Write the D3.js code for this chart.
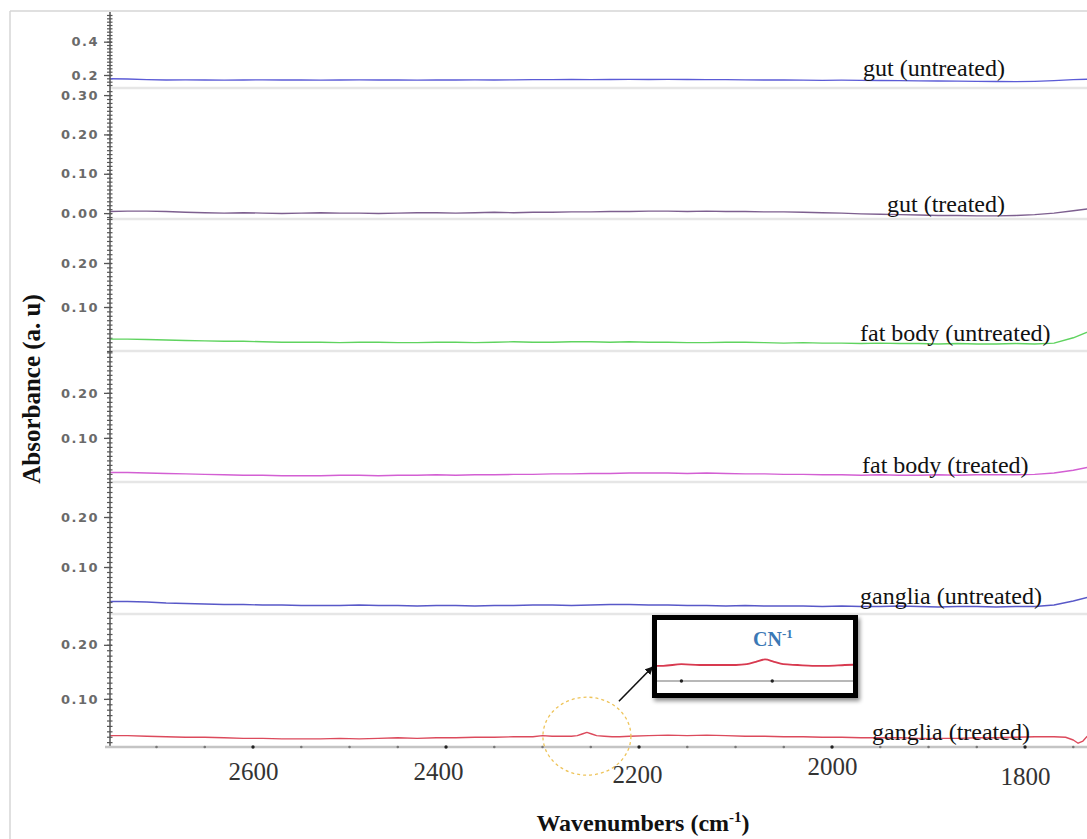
<!DOCTYPE html>
<html>
<head>
<meta charset="utf-8">
<script src="https://cdn.jsdelivr.net/npm/d3@7"></script>
<style>
  html, body { margin: 0; padding: 0; background: #fff; }
  svg { display: block; }
</style>
</head>
<body>
<svg id="chart" width="1087" height="839"></svg>
<script>
// ---- FTIR absorbance spectra, 2750–1730 cm-1 ----
const wavenumbers = [
  2750, 2730, 2710, 2690, 2670, 2650, 2630, 2610, 2590, 2570,
  2550, 2530, 2510, 2490, 2470, 2450, 2430, 2410, 2390, 2370,
  2350, 2330, 2310, 2290, 2270, 2250, 2230, 2210, 2190, 2170,
  2150, 2130, 2110, 2090, 2070, 2050, 2030, 2010, 1990, 1970,
  1950, 1930, 1910, 1890, 1870, 1850, 1830, 1810, 1790, 1770,
  1750, 1730
];

const gutUntreated = [
  0.178, 0.176, 0.172,
  0.170, 0.171, 0.170, 0.169, 0.170, 0.171, 0.170, 0.170, 0.169, 0.170,
  0.171, 0.170, 0.170, 0.169, 0.170, 0.170, 0.171, 0.170,
  0.171, 0.172, 0.172, 0.173, 0.172, 0.173, 0.174, 0.173, 0.174, 0.173,
  0.172, 0.172, 0.171,
  0.170, 0.170, 0.169, 0.168, 0.169, 0.168, 0.167, 0.166, 0.165, 0.164,
  0.163, 0.162,
  0.161, 0.160, 0.162, 0.166, 0.172, 0.176
];

const gutTreated = [
  0.004, 0.005, 0.005, 0.004, 0.002, 0.001, 0.000,
  0.001, 0.000, -0.001, 0.000, 0.001, 0.000, 0.000, -0.001, 0.000, 0.001,
  0.001, 0.000, 0.001, 0.002, 0.001, 0.002, 0.002, 0.003,
  0.003, 0.004, 0.004, 0.005, 0.005, 0.004, 0.005, 0.004, 0.004, 0.003,
  0.003, 0.002, 0.001,
  0.000, -0.002, -0.003, -0.004, -0.005, -0.006, -0.006, -0.007, -0.007, -0.006,
  -0.004, 0.000, 0.006, 0.012
];

const fatBodyUntreated = [
  0.027, 0.027, 0.026, 0.025, 0.024, 0.023,
  0.022, 0.022, 0.021, 0.020, 0.020, 0.020, 0.019, 0.020, 0.020, 0.019,
  0.019, 0.020, 0.020, 0.019, 0.020, 0.021, 0.020, 0.020, 0.021, 0.021,
  0.020, 0.021, 0.020, 0.020, 0.019,
  0.019, 0.020, 0.020, 0.019, 0.018, 0.019, 0.018, 0.018, 0.017, 0.018,
  0.017, 0.017, 0.016, 0.017, 0.016,
  0.016, 0.017, 0.016, 0.018, 0.030, 0.048
];

const fatBodyTreated = [
  0.023, 0.023, 0.022, 0.021, 0.020, 0.019,
  0.018, 0.017, 0.017, 0.016, 0.016, 0.016, 0.017, 0.017, 0.016, 0.017,
  0.017, 0.018, 0.017, 0.018, 0.018,
  0.019, 0.019, 0.020, 0.020, 0.021, 0.021, 0.022, 0.022, 0.022, 0.021,
  0.022, 0.021, 0.020, 0.020, 0.019, 0.019, 0.018,
  0.018, 0.017, 0.018, 0.017, 0.017, 0.018, 0.017, 0.018, 0.018, 0.018,
  0.019, 0.022, 0.028, 0.037
];

const gangliaUntreated = [
  0.031, 0.031, 0.030, 0.028, 0.027, 0.026,
  0.025, 0.025, 0.024, 0.024, 0.023, 0.023, 0.023, 0.024, 0.023, 0.023,
  0.022, 0.023, 0.023, 0.022, 0.023,
  0.023, 0.024, 0.024, 0.023, 0.024, 0.025, 0.025, 0.024, 0.024, 0.023,
  0.023, 0.022, 0.023, 0.022, 0.022,
  0.022, 0.021, 0.022, 0.021, 0.021, 0.022, 0.021, 0.020, 0.021, 0.021,
  0.020, 0.021,
  0.021, 0.024, 0.032, 0.042
];

// ganglia (treated) was sampled more finely around the CN band and the right edge
const gangliaTreatedWavenumbers = [
  2750, 2730, 2710, 2690, 2670, 2650, 2630, 2610, 2590, 2570,
  2550, 2530, 2510, 2490, 2470, 2450, 2430, 2410, 2390, 2370,
  2350, 2330, 2310,
  2300, 2290, 2280, 2270, 2264, 2259, 2254, 2249, 2244, 2236, 2228, 2220, 2210,
  2190, 2170, 2150, 2130, 2110, 2090, 2070, 2050, 2030, 2010,
  1990, 1970, 1950, 1930, 1910, 1890, 1870, 1850, 1830, 1810,
  1790, 1770,
  1758, 1750, 1745, 1740, 1736, 1730
];
const gangliaTreated = [
  0.032, 0.032, 0.031, 0.030, 0.029, 0.029, 0.028, 0.027, 0.027, 0.026,
  0.026, 0.026, 0.027, 0.026, 0.027, 0.028, 0.027, 0.028, 0.028, 0.029,
  0.029, 0.030, 0.030,
  0.032, 0.031, 0.031, 0.031, 0.032, 0.035, 0.038, 0.035, 0.032, 0.031, 0.030, 0.030, 0.031,
  0.032, 0.033, 0.032, 0.033, 0.032, 0.031, 0.031, 0.030, 0.030, 0.029,
  0.029, 0.028, 0.028, 0.028, 0.027, 0.027, 0.027, 0.028, 0.028, 0.029,
  0.030, 0.030,
  0.029, 0.024, 0.018, 0.022, 0.030, 0.036
];

const sampleLabels = [
  "gut (untreated)", "gut (treated)",
  "fat body (untreated)", "fat body (treated)",
  "ganglia (untreated)", "ganglia (treated)"
];

// absorbance range shown in each stacked panel (top to bottom)
const panelDomains = [
  [0.122, 0.578], [-0.015, 0.318], [0.000, 0.300],
  [0.002, 0.293], [0.006, 0.270], [0.011, 0.257]
];
const panelTicks = [
  [0.2, 0.4], [0.0, 0.1, 0.2, 0.3], [0.1, 0.2],
  [0.1, 0.2], [0.1, 0.2], [0.1, 0.2]
];
const xTicks = [2600, 2400, 2200, 2000, 1800];
const cnBand = 2254;   // CN stretching band marked in ganglia (treated)

// ---- layout ----
const W = 1087, H = 839;
const axisX = 110, axisY = 747;
const bands = [[12, 88], [88, 219], [219, 351], [351, 482], [482, 614], [614, 747]];
const colors = ["#5b5bd6", "#7d5f8f", "#5fd35f", "#d35fd3", "#5858c8", "#dc4a5c"];
const labelPos = [[863, 76], [887, 212], [860, 341], [862, 473], [860, 604], [872, 740]];
const tickNudge = { 2600: [0, 0], 2400: [-8, 0], 2200: [-2, 3], 2000: [0, -5], 1800: [0, 5] };

const series = [
  { wn: wavenumbers, v: gutUntreated },
  { wn: wavenumbers, v: gutTreated },
  { wn: wavenumbers, v: fatBodyUntreated },
  { wn: wavenumbers, v: fatBodyTreated },
  { wn: wavenumbers, v: gangliaUntreated },
  { wn: gangliaTreatedWavenumbers, v: gangliaTreated }
];

const svg = d3.select("#chart");

// frame lines along the top and left
svg.append("line").attr("x1", 10).attr("y1", 11).attr("x2", W).attr("y2", 11)
  .attr("stroke", "#d6d6d6").attr("stroke-width", 1.5);
svg.append("line").attr("x1", 10).attr("y1", 11).attr("x2", 10).attr("y2", H)
  .attr("stroke", "#d6d6d6").attr("stroke-width", 1.5);

const x = d3.scaleLinear().domain([2748.2, 1735.8]).range([axisX, W]);

svg.append("defs").append("clipPath").attr("id", "plotClip")
  .append("rect").attr("x", axisX).attr("y", 0).attr("width", W - axisX).attr("height", H);

const yScales = [];

bands.forEach((band, i) => {
  const [lo, hi] = panelDomains[i];
  const y = d3.scaleLinear().domain([lo, hi]).range([band[1], band[0]]);
  yScales.push(y);

  // light baseline under each panel
  if (i < bands.length - 1) {
    svg.append("line")
      .attr("x1", axisX).attr("x2", W)
      .attr("y1", band[1]).attr("y2", band[1])
      .attr("stroke", "#e6e6e6").attr("stroke-width", 2.5);
  }

  // minor ticks
  const step = i === 0 ? 0.02 : 0.01;
  const minor = d3.range(Math.ceil(lo / step - 1e-6), Math.floor(hi / step + 1e-6) + 1)
    .map(k => +(k * step).toFixed(3));
  const gMinor = svg.append("g").attr("transform", `translate(${axisX},0)`)
    .call(d3.axisLeft(y).tickValues(minor).tickSize(3).tickFormat(""));
  gMinor.select(".domain").remove();
  gMinor.selectAll(".tick line").attr("x1", 2.5).attr("stroke", "#555").attr("stroke-width", 1.2);

  // major ticks
  const gMajor = svg.append("g").attr("transform", `translate(${axisX},0)`)
    .call(d3.axisLeft(y).tickValues(panelTicks[i]).tickSize(6).tickPadding(5)
      .tickFormat(d3.format(i === 0 ? ".1f" : ".2f")));
  gMajor.select(".domain").remove();
  gMajor.selectAll(".tick line").attr("x1", 2).attr("stroke", "#555").attr("stroke-width", 1.3);
  gMajor.selectAll(".tick text")
    .attr("fill", "#6a6a6a")
    .style("font-family", "'DejaVu Sans', sans-serif")
    .style("font-size", "13px")
    .style("font-weight", "bold")
    .style("letter-spacing", "1.5px");

  // spectrum
  const s = series[i];
  const pts = s.wn.map((w, k) => [w, s.v[k]]);
  svg.append("path")
    .datum(pts)
    .attr("clip-path", "url(#plotClip)")
    .attr("fill", "none")
    .attr("stroke", colors[i])
    .attr("stroke-width", 1.4)
    .attr("stroke-linejoin", "round")
    .attr("d", d3.line().x(d => x(d[0])).y(d => y(d[1])));

  // sample label
  svg.append("text")
    .attr("x", labelPos[i][0]).attr("y", labelPos[i][1])
    .attr("fill", "#111")
    .style("font-family", "'Liberation Serif', 'Times New Roman', serif")
    .style("font-size", "24px")
    .text(sampleLabels[i]);
});

// continuous y-axis spine
svg.append("line").attr("x1", axisX).attr("x2", axisX).attr("y1", 12).attr("y2", axisY)
  .attr("stroke", "#555").attr("stroke-width", 1.5);

// x axis
svg.append("line").attr("x1", axisX - 5).attr("x2", W).attr("y1", axisY).attr("y2", axisY)
  .attr("stroke", "#c4c4c4").attr("stroke-width", 2.5);

const dotTicks = d3.range(2700, 1700, -50).filter(w => x(w) > axisX + 2);
svg.append("g").selectAll("circle").data(dotTicks).join("circle")
  .attr("cx", d => x(d)).attr("cy", axisY)
  .attr("r", d => d % 200 === 0 ? 1.7 : 1.3)
  .attr("fill", d => d % 200 === 0 ? "#222" : "#777");

const gx = svg.append("g").attr("transform", `translate(0,${axisY})`)
  .call(d3.axisBottom(x).tickValues(xTicks).tickSize(0).tickPadding(15).tickFormat(d3.format("d")));
gx.select(".domain").remove();
gx.selectAll(".tick text")
  .attr("fill", "#333")
  .attr("dx", d => tickNudge[d][0])
  .attr("transform", d => `translate(0,${tickNudge[d][1]})`)
  .style("font-family", "'Liberation Serif', 'Times New Roman', serif")
  .style("font-size", "25px");

// axis titles
const xTitle = svg.append("text")
  .attr("x", 643).attr("y", 831)
  .attr("text-anchor", "middle")
  .attr("fill", "#111")
  .style("font-family", "'Liberation Serif', 'Times New Roman', serif")
  .style("font-size", "24px")
  .style("font-weight", "bold");
xTitle.append("tspan").text("Wavenumbers (cm");
xTitle.append("tspan").attr("dy", -9).style("font-size", "15px").text("-1");
xTitle.append("tspan").attr("dy", 9).text(")");

svg.append("text")
  .attr("transform", "translate(40,389) rotate(-90)")
  .attr("text-anchor", "middle")
  .attr("fill", "#111")
  .style("font-family", "'Liberation Serif', 'Times New Roman', serif")
  .style("font-size", "25px")
  .style("font-weight", "bold")
  .text("Absorbance (a. u)");

// ---- CN band highlight and magnified inset ----
const yG = yScales[5];
const cx = x(cnBand), cy = yG(0.031);
svg.append("ellipse")
  .attr("cx", cx).attr("cy", cy).attr("rx", 44).attr("ry", 39)
  .attr("fill", "none")
  .attr("stroke", "#eec45a").attr("stroke-width", 1.3)
  .attr("stroke-dasharray", "3,3");

const box = { x: 654.5, y: 617.5, w: 201, h: 78 };

svg.select("defs").append("marker")
  .attr("id", "arrowHead").attr("viewBox", "0 0 10 10")
  .attr("refX", 9).attr("refY", 5)
  .attr("markerWidth", 5).attr("markerHeight", 5)
  .attr("orient", "auto")
  .append("path").attr("d", "M0,0 L10,5 L0,10 Z").attr("fill", "#111");

svg.append("line")
  .attr("x1", cx + 32).attr("y1", cy - 35)
  .attr("x2", box.x - 2).attr("y2", 667)
  .attr("stroke", "#111").attr("stroke-width", 1.6)
  .attr("marker-end", "url(#arrowHead)");

const filt = svg.select("defs").append("filter").attr("id", "boxShadow")
  .attr("x", "-10%").attr("y", "-10%").attr("width", "130%").attr("height", "140%");
filt.append("feGaussianBlur").attr("in", "SourceAlpha").attr("stdDeviation", 2);
filt.append("feOffset").attr("dx", 2).attr("dy", 3).attr("result", "off");
filt.append("feComponentTransfer").append("feFuncA").attr("type", "linear").attr("slope", 0.45);
const fm = filt.append("feMerge");
fm.append("feMergeNode");
fm.append("feMergeNode").attr("in", "SourceGraphic");

svg.append("rect")
  .attr("x", box.x).attr("y", box.y).attr("width", box.w).attr("height", box.h)
  .attr("fill", "#fff").attr("stroke", "#000").attr("stroke-width", 5)
  .attr("filter", "url(#boxShadow)");

svg.select("defs").append("clipPath").attr("id", "insetClip")
  .append("rect").attr("x", box.x + 2.5).attr("y", box.y + 2.5)
  .attr("width", box.w - 5).attr("height", box.h - 5);

const xi = d3.scaleLinear().domain([2314, 2205]).range([656, 854]);
const yi = d3.scaleLinear().domain([0.011, 0.05]).range([681, 649.8]);
const inset = svg.append("g").attr("clip-path", "url(#insetClip)");

inset.append("line").attr("x1", 656).attr("x2", 854)
  .attr("y1", yi(0.011)).attr("y2", yi(0.011))
  .attr("stroke", "#b8b8b8").attr("stroke-width", 2);
inset.selectAll("circle").data([2300, 2250]).join("circle")
  .attr("cx", d => xi(d)).attr("cy", yi(0.011)).attr("r", 1.7).attr("fill", "#222");

const insetPts = gangliaTreatedWavenumbers
  .map((w, k) => [w, gangliaTreated[k]])
  .filter(d => d[0] <= 2330 && d[0] >= 2190);
inset.append("path").datum(insetPts)
  .attr("fill", "none").attr("stroke", "#d83a50").attr("stroke-width", 1.8)
  .attr("stroke-linejoin", "round")
  .attr("d", d3.line().curve(d3.curveMonotoneX).x(d => xi(d[0])).y(d => yi(d[1])));

const cn = svg.append("text")
  .attr("x", 753).attr("y", 646)
  .attr("fill", "#3b78b5")
  .style("font-family", "'Liberation Serif', 'Times New Roman', serif")
  .style("font-size", "20px")
  .style("font-weight", "bold");
cn.append("tspan").text("CN");
cn.append("tspan").attr("dy", -8).style("font-size", "13px").text("-1");
</script>
</body>
</html>
